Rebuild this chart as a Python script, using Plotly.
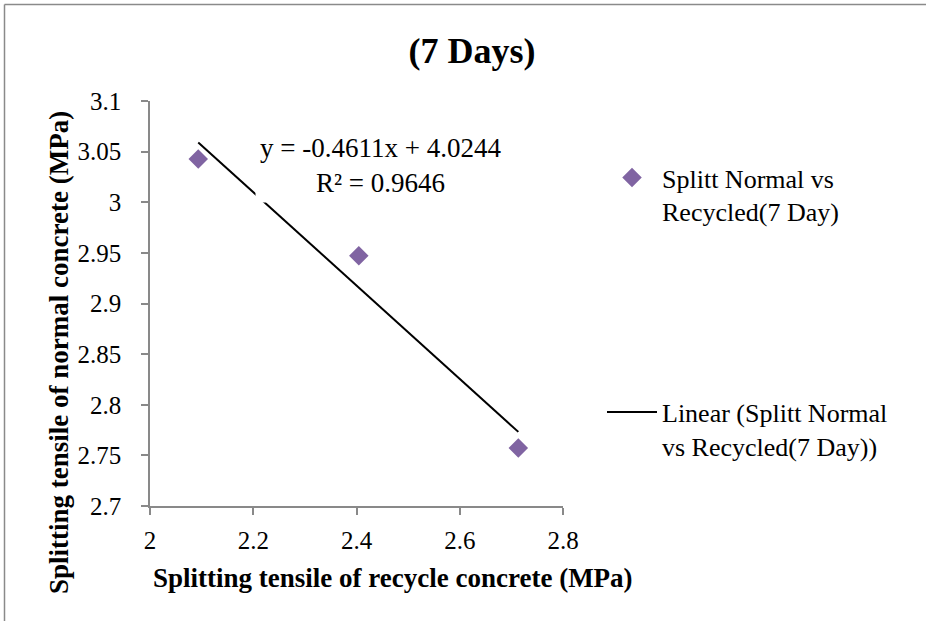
import plotly.graph_objects as go

# Splitting tensile strength at 7 days (MPa)
recycled_mpa = [2.0935, 2.4045, 2.7135]
normal_mpa = [3.0427, 2.9471, 2.7574]

# Linear trendline fitted in the spreadsheet
SLOPE = -0.4611
INTERCEPT = 4.0244
R_SQUARED = 0.9646

x_tickvals = [2.0, 2.2, 2.4, 2.6, 2.8]
x_ticktext = ["2", "2.2", "2.4", "2.6", "2.8"]
y_tickvals = [2.7, 2.75, 2.8, 2.85, 2.9, 2.95, 3.0, 3.05, 3.1]
y_ticktext = ["2.7", "2.75", "2.8", "2.85", "2.9", "2.95", "3", "3.05", "3.1"]

series_name = "Splitt Normal vs<br>Recycled(7 Day)"
trend_name = "Linear (Splitt Normal<br>vs Recycled(7 Day))"

W, H = 926, 621
ML, MR, MT, MB = 150, 363, 101, 115
PW, PH = W - ML - MR, H - MT - MB

SERIF = "Times New Roman, Liberation Serif, serif"
AXIS_GREY = "#898989"


def px_x(p):
    return (p - ML) / PW


def px_y(p):
    return (H - MB - p) / PH


trend_x = [min(recycled_mpa), max(recycled_mpa)]
trend_y = [SLOPE * v + INTERCEPT for v in trend_x]

fig = go.Figure()
fig.add_trace(go.Scatter(
    x=recycled_mpa, y=normal_mpa, mode="markers", name=series_name,
    marker=dict(symbol="diamond", size=15, color="#8064A2"),
    legendgroup="a", cliponaxis=False,
))
fig.add_trace(go.Scatter(
    x=trend_x, y=trend_y, mode="lines", name=trend_name,
    line=dict(color="black", width=2),
    legendgroup="b",
))

axis_common = dict(
    showgrid=False, zeroline=False, showline=True, linecolor=AXIS_GREY,
    linewidth=1.5, ticks="outside", ticklen=7, tickcolor=AXIS_GREY,
    tickwidth=1.5,
    tickfont=dict(family=SERIF, size=25, color="black"),
)

fig.update_layout(
    width=W, height=H,
    margin=dict(l=ML, r=MR, t=MT, b=MB),
    paper_bgcolor="white", plot_bgcolor="white",
    font=dict(family=SERIF, size=26, color="black"),
    title=dict(
        text="<b>(7 Days)</b>", font=dict(family=SERIF, size=36, color="black"),
        xref="container", yref="container", x=472 / W, y=1 - 50 / H,
        xanchor="center", yanchor="middle",
    ),
    xaxis=dict(range=[2.0, 2.8], tickvals=x_tickvals, ticktext=x_ticktext,
               ticklabelstandoff=4, **axis_common),
    yaxis=dict(range=[2.7, 3.1], tickvals=y_tickvals, ticktext=y_ticktext,
               ticklabelstandoff=15, **axis_common),
    showlegend=True,
    legend=dict(
        x=px_x(602), y=px_y(154), xanchor="left", yanchor="top",
        traceorder="grouped", tracegroupgap=164, valign="top",
        font=dict(family=SERIF, size=26, color="black"),
        bgcolor="rgba(0,0,0,0)", itemwidth=50,
    ),
    annotations=[
        dict(
            text=f"y = {SLOPE}x + {INTERCEPT}<br>R² = {R_SQUARED}",
            xref="paper", yref="paper", x=px_x(380), y=px_y(165),
            xanchor="center", yanchor="middle", showarrow=False, align="center",
            font=dict(family=SERIF, size=27, color="black"),
            bgcolor="white", borderpad=4,
        ),
        dict(
            text="<b>Splitting tensile of recycle concrete (MPa)</b>",
            xref="paper", yref="paper", x=px_x(393), y=px_y(578),
            xanchor="center", yanchor="middle", showarrow=False,
            font=dict(family=SERIF, size=27, color="black"),
        ),
        dict(
            text="<b>Splitting tensile of normal concrete (MPa)</b>",
            xref="paper", yref="paper", x=px_x(59), y=px_y(353),
            xanchor="center", yanchor="middle", showarrow=False, textangle=-90,
            font=dict(family=SERIF, size=27, color="black"),
        ),
    ],
    shapes=[
        # chart-area border (top and left edges)
        dict(type="line", xref="paper", yref="paper",
             x0=px_x(4.5), y0=px_y(4.5), x1=px_x(W + 10), y1=px_y(4.5),
             line=dict(color="#8a8a8a", width=1.5)),
        dict(type="line", xref="paper", yref="paper",
             x0=px_x(4.5), y0=px_y(4.5), x1=px_x(4.5), y1=px_y(H + 10),
             line=dict(color="#8a8a8a", width=1.5)),
    ],
)

fig.write_html("out.html")
